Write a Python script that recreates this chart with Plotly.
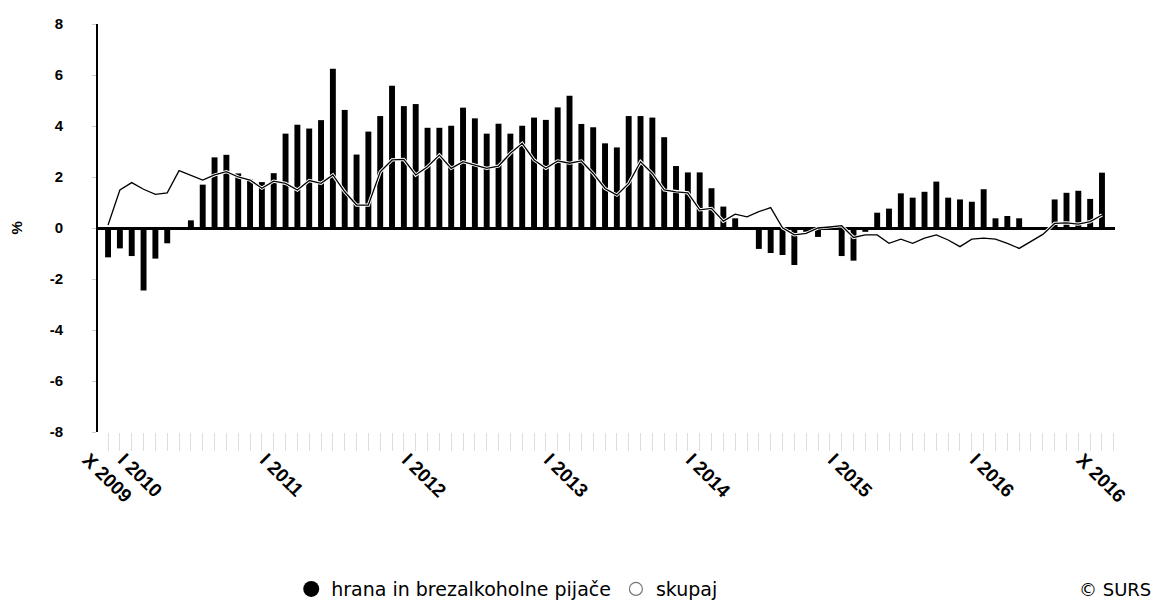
import plotly.graph_objects as go

# Monthly data, X 2009 .. X 2016 (85 months)
roman = ["I", "II", "III", "IV", "V", "VI", "VII", "VIII", "IX", "X", "XI", "XII"]
months = []
for k in range(85):
    m = (9 + k) % 12
    y = 2009 + (9 + k) // 12
    months.append(f"{roman[m]} {y}")

hrana = [
    -1.15, -0.80, -1.10, -2.45, -1.20, -0.60, 0.00, 0.30, 1.70, 2.77,
    2.87, 2.14, 1.90, 1.80, 2.15, 3.70, 4.05, 3.90, 4.23, 6.25,
    4.63, 2.88, 3.78, 4.39, 5.58, 4.78, 4.86, 3.93, 3.93, 4.01,
    4.72, 4.30, 3.70, 4.09, 3.70, 4.01, 4.33, 4.24, 4.73, 5.19,
    4.08, 3.95, 3.32, 3.16, 4.39, 4.39, 4.33, 3.56, 2.43, 2.18,
    2.18, 1.56, 0.84, 0.38, 0.00, -0.82, -0.98, -1.06, -1.45, -0.15,
    -0.35, 0.00, -1.10, -1.28, -0.15, 0.60, 0.76, 1.36, 1.19, 1.42,
    1.82, 1.19, 1.12, 1.03, 1.52, 0.38, 0.47, 0.38, 0.00, 0.00,
    1.12, 1.38, 1.46, 1.14, 2.17,
]

skupaj = [
    0.12, 1.49, 1.78, 1.52, 1.32, 1.38, 2.25, 2.08, 1.88, 2.08,
    2.21, 2.00, 1.88, 1.56, 1.84, 1.75, 1.49, 1.86, 1.75, 2.08,
    1.42, 0.90, 0.90, 2.20, 2.67, 2.69, 2.08, 2.40, 2.86, 2.34,
    2.60, 2.47, 2.34, 2.43, 2.93, 3.32, 2.67, 2.34, 2.63, 2.54,
    2.63, 2.14, 1.55, 1.29, 1.75, 2.60, 2.14, 1.49, 1.42, 1.38,
    0.71, 0.77, 0.27, 0.54, 0.44, 0.64, 0.80, 0.01, -0.27, -0.21,
    0.00, 0.04, 0.09, -0.37, -0.27, -0.27, -0.60, -0.44, -0.60, -0.40,
    -0.27, -0.47, -0.73, -0.44, -0.40, -0.44, -0.60, -0.80, -0.54, -0.25,
    0.18, 0.20, 0.15, 0.25, 0.51,
]

x_labels = ["X 2009", "I 2010", "I 2011", "I 2012", "I 2013",
            "I 2014", "I 2015", "I 2016", "X 2016"]
y_ticks = [-8, -6, -4, -2, 0, 2, 4, 6, 8]

name_bar = "hrana in brezalkoholne pijače"
name_line = "skupaj"

x = list(range(len(months)))
label_pos = [months.index(l) for l in x_labels]

fig = go.Figure()
fig.add_bar(x=x, y=hrana, name=name_bar, marker=dict(color="black", line=dict(width=0)),
            width=0.5, showlegend=False, customdata=months,
            hovertemplate="%{customdata}: %{y}<extra></extra>")
fig.add_scatter(x=x, y=skupaj, mode="lines", line=dict(color="white", width=3.2),
                showlegend=False, hoverinfo="skip")
fig.add_scatter(x=x, y=skupaj, mode="lines", name=name_line,
                line=dict(color="black", width=1.3), showlegend=False)

# legend entries (circle symbols as in the original)
fig.add_scatter(x=[None], y=[None], mode="markers", name=name_bar,
                marker=dict(symbol="circle", size=16, color="black"))
fig.add_scatter(x=[None], y=[None], mode="markers", name=name_line,
                marker=dict(symbol="circle-open", size=13, color="#777777",
                            line=dict(width=1.2)))

font_family = "Liberation Sans, Arial, sans-serif"

fig.update_layout(
    width=1159, height=606,
    margin=dict(l=98, r=44, t=24, b=174, autoexpand=False),
    paper_bgcolor="white", plot_bgcolor="white",
    showlegend=True,
    legend=dict(orientation="h", x=0.19, xanchor="left", y=-0.385, yanchor="middle",
                font=dict(family="DejaVu Sans, sans-serif", size=19, color="black"),
                itemwidth=30, bgcolor="rgba(0,0,0,0)"),
    xaxis=dict(range=[-0.85, 85.1], showgrid=False, zeroline=False, showline=False,
               automargin=False,
               tickmode="array", tickvals=label_pos, ticktext=x_labels,
               tickangle=45, ticks="",
               tickfont=dict(family=font_family, size=19, color="black", weight="bold"),
               ticklabelshift=-20, ticklabelstandoff=12,
               minor=dict(ticks="outside", ticklen=18, tickcolor="#dedede", tickwidth=1,
                          dtick=1, tick0=0, showgrid=False)),
    yaxis=dict(range=[-8, 8], tickmode="array", tickvals=y_ticks,
               ticktext=[str(v) for v in y_ticks], automargin=False,
               showgrid=False, showline=True, linecolor="black", linewidth=2,
               zeroline=True, zerolinecolor="black", zerolinewidth=2.5,
               ticks="outside", ticklen=4, tickcolor="#cccccc",
               ticklabelstandoff=26,
               tickfont=dict(family=font_family, size=15, color="black", weight="bold")),
    annotations=[
        dict(text="%", xref="paper", yref="paper", x=-0.081, xanchor="center",
             y=0.5, yanchor="middle", showarrow=False,
             textangle=-90, font=dict(family=font_family, size=15, color="black", weight="bold")),
        dict(text="© SURS", xref="paper", yref="paper", x=1.037, xanchor="right",
             y=-0.385, yanchor="middle", showarrow=False,
             font=dict(family="DejaVu Sans, sans-serif", size=18, color="black")),
    ],
)

fig.write_html(
    "out.html",
    config={"displayModeBar": False},
    post_script="document.body.style.margin='0';document.body.style.padding='0';"
                "document.body.style.overflow='hidden';",
)
